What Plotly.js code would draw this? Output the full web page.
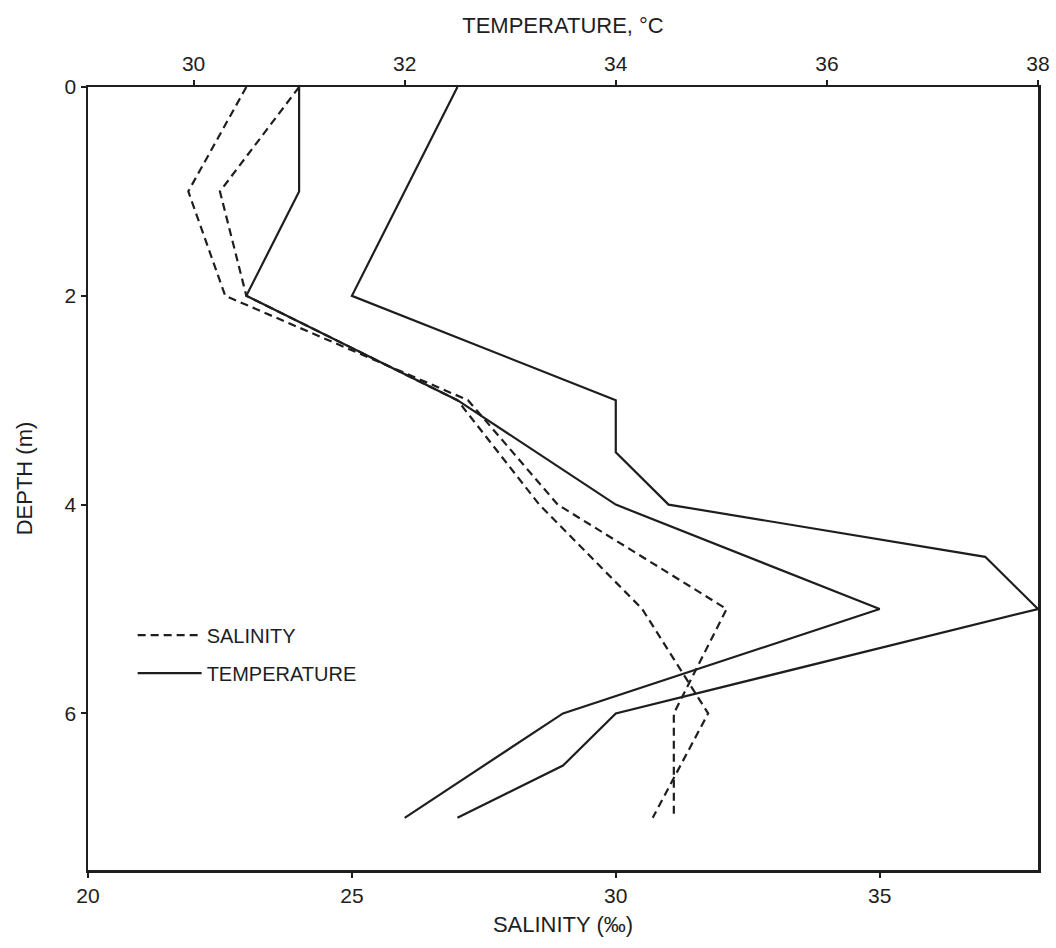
<!DOCTYPE html>
<html><head><meta charset="utf-8">
<script src="https://cdn.plot.ly/plotly-3.0.1.min.js"></script>
<style>html,body{margin:0;padding:0;background:#fff}#chart{width:1056px;height:948px}</style>
</head><body><div id="chart"></div>
<script>
// Tick labels
const salinityTicks = [20, 25, 30, 35];
const temperatureTicks = [30, 32, 34, 36, 38];
const depthTicks = [0, 2, 4, 6];

// Salinity profiles (per mille) vs depth (m)
const salDepthA = [0, 1, 2, 3, 4, 5, 6, 7];
const salinityA = [23.0, 21.9, 22.6, 27.2, 28.9, 32.1, 31.1, 31.1];
const salDepthB = [0, 1, 2, 3, 4, 5, 6, 7];
const salinityB = [24.0, 22.5, 23.0, 27.0, 28.55, 30.5, 31.75, 30.7];

// Temperature profiles (deg C) vs depth (m)
const tempDepthA = [0, 1, 2, 3, 4, 5, 6, 7];
const temperatureA = [31.0, 31.0, 30.5, 32.5, 34.0, 36.5, 33.5, 32.0];
const tempDepthB = [0, 2, 3, 3.5, 4, 4.5, 5, 6, 6.5, 7];
const temperatureB = [32.5, 31.5, 34.0, 34.0, 34.5, 37.5, 38.0, 34.0, 33.5, 32.5];

const ink = '#1e1e1e';
const dashLine = {color: ink, width: 2.2, dash: '8px,5px'};
const solidLine = {color: ink, width: 2.2};

const traces = [
  {x: salinityA, y: salDepthA, mode: 'lines', line: dashLine, name: 'SALINITY', legendgroup: 's', showlegend: true, xaxis: 'x', yaxis: 'y'},
  {x: salinityB, y: salDepthB, mode: 'lines', line: dashLine, name: 'SALINITY', legendgroup: 's', showlegend: false, xaxis: 'x', yaxis: 'y'},
  {x: temperatureA, y: tempDepthA, mode: 'lines', line: solidLine, name: 'TEMPERATURE', legendgroup: 't', showlegend: true, xaxis: 'x2', yaxis: 'y'},
  {x: temperatureB, y: tempDepthB, mode: 'lines', line: solidLine, name: 'TEMPERATURE', legendgroup: 't', showlegend: false, xaxis: 'x2', yaxis: 'y'}
];

const fontFam = 'Liberation Sans, Arial, sans-serif';
const tickFont = {family: fontFam, size: 21, color: ink};
const titleFont = {family: fontFam, size: 22, color: ink};
const axisCommon = {
  ticks: 'outside', ticklen: 5, tickwidth: 2, tickcolor: ink,
  showline: true, linewidth: 2.5, linecolor: ink,
  showgrid: false, zeroline: false,
  tickfont: tickFont
};

const layout = {
  width: 1056, height: 948,
  margin: {l: 88, r: 18, t: 87, b: 78},
  paper_bgcolor: '#ffffff', plot_bgcolor: '#ffffff',
  font: {family: fontFam, size: 20, color: ink},
  showlegend: true,
  legend: {
    x: 0.047, y: 0.325, xanchor: 'left', yanchor: 'top',
    bgcolor: 'rgba(0,0,0,0)', font: {family: fontFam, size: 20, color: ink},
    traceorder: 'grouped', tracegroupgap: 9, itemwidth: 64
  },
  xaxis: Object.assign({}, axisCommon, {
    range: [20, 38], tickvals: salinityTicks, ticktext: salinityTicks.map(String),
    title: {text: 'SALINITY (‰)', font: titleFont, standoff: 11}
  }),
  xaxis2: Object.assign({}, axisCommon, {
    range: [29, 38], overlaying: 'x', side: 'top', anchor: 'y',
    tickvals: temperatureTicks, ticktext: temperatureTicks.map(String),
    title: {text: 'TEMPERATURE, °C', font: titleFont, standoff: 13}
  }),
  yaxis: Object.assign({}, axisCommon, {
    range: [7.5, 0], tickvals: depthTicks, ticktext: depthTicks.map(String), mirror: true,
    title: {text: 'DEPTH (m)', font: titleFont, standoff: 26}
  })
};

Plotly.newPlot('chart', traces, layout, {displayModeBar: false, staticPlot: true});
</script>
</body></html>
